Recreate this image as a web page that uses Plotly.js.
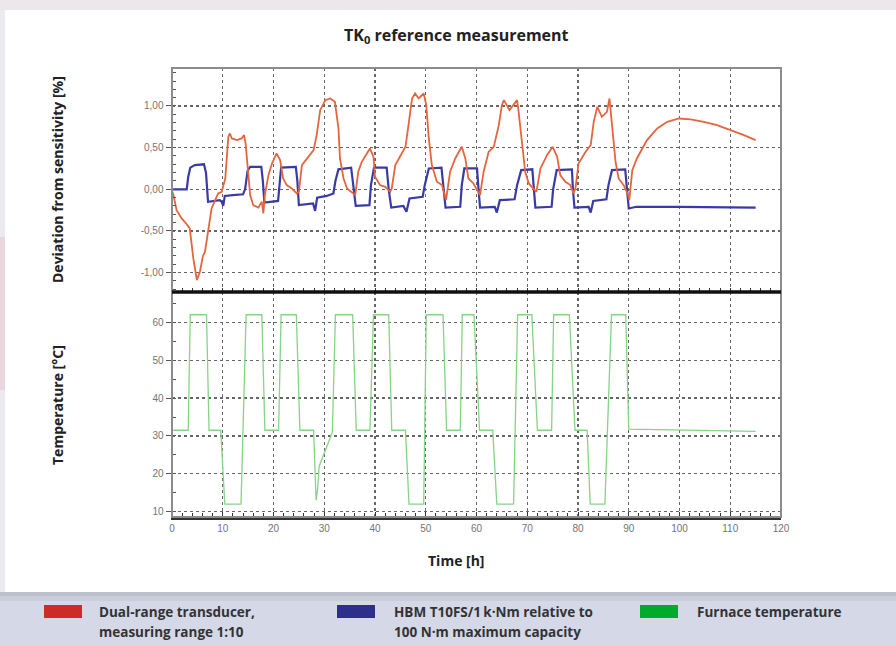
<!DOCTYPE html>
<html>
<head>
<meta charset="utf-8">
<script src="https://cdn.plot.ly/plotly-3.0.1.min.js"></script>
<style>
html,body{margin:0;padding:0;background:#fff;}
#chart{width:896px;height:646px;}
</style>
</head>
<body>
<div id="chart"></div>
<script>
// ---------- DATA ----------
// Dual-range transducer, measuring range 1:10 (deviation %)
const dualHours = [0,0.3,0.9,1.9,2.9,3.5,4.2,4.9,5.5,6.1,6.5,7.2,7.8,8.5,9.1,9.8,10.5,11.1,11.4,11.8,12.8,13.7,14.2,14.5,15.1,15.4,16.0,17.0,17.7,18.0,18.3,19.0,19.7,20.6,21.3,21.9,22.6,23.6,24.6,25.0,25.6,26.9,27.9,28.5,29.2,30.2,31.2,32.1,32.8,33.1,33.8,34.5,35.4,36.1,36.7,37.4,38.4,39.0,39.7,40.0,41.0,42.0,43.0,43.3,44.0,45.0,46.0,46.6,47.3,47.9,48.6,49.6,50.1,50.6,51.2,52.2,53.2,54.0,54.8,55.8,57.1,57.8,58.4,59.4,60.7,61.4,62.4,63.4,64.4,65.0,65.4,66.5,68.0,68.3,69.0,69.6,70.3,71.3,71.8,72.6,73.9,75.0,75.9,76.5,77.5,78.5,79.1,79.5,80.1,81.5,82.5,83.1,83.8,84.7,85.7,86.2,86.7,87.4,88.0,89.0,89.9,90.1,90.7,91.6,93.6,95.6,97.6,99.9,102.2,104.8,107.4,110.1,112.7,115];
const dualDev = [-0.02,-0.07,-0.25,-0.35,-0.42,-0.47,-0.83,-1.09,-0.99,-0.8,-0.75,-0.47,-0.23,-0.13,-0.05,-0.03,0.13,0.63,0.67,0.61,0.59,0.61,0.65,0.55,0.13,-0.07,-0.19,-0.22,-0.15,-0.29,-0.07,0.17,0.31,0.43,0.35,0.13,0.05,0.01,-0.05,-0.03,0.29,0.39,0.47,0.65,0.95,1.07,1.09,1.05,0.73,0.37,0.13,0.01,-0.03,-0.07,0.21,0.33,0.43,0.49,0.39,0.15,0.05,0.03,-0.03,0.01,0.29,0.41,0.51,0.77,1.09,1.15,1.09,1.15,1.01,0.61,0.29,0.09,0.05,-0.13,0.21,0.37,0.51,0.37,0.13,0.07,-0.07,0.21,0.45,0.51,0.77,1.01,1.07,0.95,1.07,0.93,0.53,0.21,0.07,0.01,-0.03,0.25,0.41,0.51,0.39,0.17,0.09,0.05,-0.05,0.01,0.31,0.45,0.53,0.81,0.99,0.87,0.93,1.09,0.77,0.33,0.13,0.05,-0.07,-0.13,0.23,0.37,0.59,0.73,0.81,0.85,0.84,0.81,0.77,0.71,0.65,0.59];

// HBM T10FS/1 kN·m relative to 100 N·m maximum capacity (deviation %)
const hbmHours = [0,2.9,3.2,3.6,4.5,6.3,6.7,7.1,9.4,9.8,10.1,10.4,12,14,14.4,14.9,15.4,17.6,17.9,18.2,20.9,21.2,21.5,24.4,24.7,25.0,27.8,28.2,28.6,30.5,31.8,32.2,32.8,35.3,35.7,36.2,38.9,39.2,39.8,42.3,42.7,43.2,45.6,46.2,46.8,49.4,49.8,50.6,53.1,53.5,53.9,56.8,57.1,57.6,60.1,60.4,60.7,63.6,64.0,64.6,67.5,68.0,68.8,71.0,71.3,71.6,74.8,75.1,75.8,78.8,79.0,79.3,82.1,82.5,83.0,85.6,86.0,86.7,89.3,89.7,90.0,91.5,100,115];
const hbmDev = [0,0,0.15,0.26,0.29,0.3,0.2,-0.15,-0.13,-0.15,-0.2,-0.08,-0.07,-0.06,0.0,0.22,0.27,0.27,0.1,-0.16,-0.14,0.1,0.26,0.27,0.1,-0.19,-0.17,-0.26,-0.1,-0.08,-0.05,0.1,0.24,0.26,0.05,-0.2,-0.19,0.05,0.26,0.26,0.0,-0.22,-0.2,-0.27,-0.11,-0.09,0.05,0.25,0.26,0.05,-0.22,-0.21,0.05,0.25,0.25,0.0,-0.22,-0.21,-0.28,-0.13,-0.12,0.05,0.23,0.24,0.0,-0.22,-0.21,0.0,0.23,0.24,0.0,-0.22,-0.21,-0.28,-0.14,-0.12,0.05,0.23,0.24,0.0,-0.23,-0.21,-0.21,-0.22];

// Furnace temperature (°C)
const furnHours = [0,3.2,3.6,6.8,7.3,9.6,10.4,13.6,14.6,17.7,18.3,21.0,21.5,24.5,25.2,27.9,28.4,28.7,29.0,31.6,32.2,35.6,36.3,39.0,39.7,42.7,43.3,46.0,46.7,49.6,50.1,53.4,54.1,56.8,57.2,59.5,60.6,63.2,64.0,67.3,68.1,70.9,72.0,74.8,75.2,78.3,79.4,81.8,82.4,85.3,86.6,89.4,90.0,100,115];
const furnTemp = [31.5,31.5,62,62,31.5,31.5,12,12,62,62,31.5,31.5,62,62,31.5,31.5,13,16,22,31,62,62,31.5,31.5,62,62,31.5,31.5,12,12,62,62,31.5,31.5,62,62,31.5,31.5,12,12,62,62,31.5,31.5,62,62,31.5,31.5,12,12,62,62,31.8,31.5,31.2];

// Tick labels
const devTickVals = [-1, -0.5, 0, 0.5, 1];
const devTickText = ['-1,00', '-0,50', '0,00', '0,50', '1,00'];
const tempTickVals = [10, 20, 30, 40, 50, 60];
const timeTickVals = [0,10,20,30,40,50,60,70,80,90,100,110,120];
const legendLabels = [
  ['Dual-range transducer,', 'measuring range 1:10'],
  ['HBM T10FS/1\u2009k\u00b7Nm relative to', '100 N\u00b7m maximum capacity'],
  ['Furnace temperature']
];
const legendColors = ['#cc2b28', '#2e2e8c', '#00ab2c'];

// ---------- LAYOUT HELPERS (pixel -> paper) ----------
const PL = 172, PR = 781, PT = 68, PB = 517;
const px = x => (x - PL) / (PR - PL);
const py = y => (PB - y) / (PB - PT);
const split = py(292);

const FONT = '"Open Sans", Arial, sans-serif';
const TICKFONT = {family: 'Arial, "Liberation Sans", sans-serif', size: 10, color: '#747474'};

const traces = [
  {x: furnHours, y: furnTemp, xaxis: 'x', yaxis: 'y', mode: 'lines',
   line: {color: '#86d486', width: 1.3}, name: 'Furnace temperature', showlegend: false},
  {x: hbmHours, y: hbmDev, xaxis: 'x2', yaxis: 'y2', mode: 'lines',
   line: {color: '#3a3aa6', width: 2.2}, name: 'HBM T10FS', showlegend: false},
  {x: dualHours, y: dualDev, xaxis: 'x2', yaxis: 'y2', mode: 'lines',
   line: {color: '#e4653e', width: 1.8}, name: 'Dual-range transducer', showlegend: false}
];

const gridCommon = {showgrid: true, gridcolor: '#666', gridwidth: 1.2, griddash: 'dot', zeroline: false};

const shapes = [
  // outer page decoration
  {type: 'rect', xref: 'paper', yref: 'paper', x0: px(0), x1: px(896), y0: py(0), y1: py(10), fillcolor: '#ece7eb', line: {width: 0}, layer: 'below'},
  {type: 'rect', xref: 'paper', yref: 'paper', x0: px(0), x1: px(5), y0: py(10), y1: py(592), fillcolor: '#ebebef', line: {width: 0}, layer: 'below'},
  {type: 'rect', xref: 'paper', yref: 'paper', x0: px(0), x1: px(5), y0: py(237), y1: py(390), fillcolor: '#e9d6df', line: {width: 0}, layer: 'below'},
  {type: 'rect', xref: 'paper', yref: 'paper', x0: px(0), x1: px(896), y0: py(592), y1: py(646), fillcolor: '#d5d8e6', line: {width: 0}, layer: 'below'},
  {type: 'rect', xref: 'paper', yref: 'paper', x0: px(0), x1: px(896), y0: py(592), y1: py(596), fillcolor: '#bcbfcc', line: {width: 0}, layer: 'below'},
  {type: 'rect', xref: 'paper', yref: 'paper', x0: px(0), x1: px(896), y0: py(596), y1: py(601), fillcolor: '#cacdda', line: {width: 0}, layer: 'below'},
  // plot frame
  {type: 'rect', xref: 'paper', yref: 'paper', x0: 0, x1: 1, y0: 0, y1: 1, line: {color: '#8c8c8c', width: 2}, fillcolor: 'rgba(0,0,0,0)'},
  // divider between panels
  {type: 'line', xref: 'paper', yref: 'paper', x0: 0, x1: 1, y0: split, y1: split, line: {color: '#111', width: 3.5}}
];

// legend swatches
const swatchX = [44, 337, 640];
const textX = [97, 392, 695];
swatchX.forEach((sx, i) => {
  shapes.push({type: 'rect', xref: 'paper', yref: 'paper', x0: px(sx), x1: px(sx + 38), y0: py(618), y1: py(605),
    fillcolor: legendColors[i], line: {width: 0}});
});

const annotations = [
  {text: 'TK<sub>0</sub> reference measurement', xref: 'paper', yref: 'paper', x: px(456), y: py(36),
   xanchor: 'center', yanchor: 'middle', showarrow: false, font: {family: FONT, size: 16, color: '#222', weight: 'bold'}},
  {text: 'Deviation from sensitivity [%]', xref: 'paper', yref: 'paper', x: px(57), y: py(180), textangle: -90,
   xanchor: 'center', yanchor: 'middle', showarrow: false, font: {family: FONT, size: 14, color: '#222', weight: 'bold'}},
  {text: 'Temperature [°C]', xref: 'paper', yref: 'paper', x: px(57), y: py(405), textangle: -90,
   xanchor: 'center', yanchor: 'middle', showarrow: false, font: {family: FONT, size: 14, color: '#222', weight: 'bold'}},
  {text: 'Time [h]', xref: 'paper', yref: 'paper', x: px(456), y: py(560),
   xanchor: 'center', yanchor: 'middle', showarrow: false, font: {family: FONT, size: 14, color: '#222', weight: 'bold'}}
];
legendLabels.forEach((lines, i) => {
  lines.forEach((t, j) => {
    annotations.push({text: t, xref: 'paper', yref: 'paper', x: px(textX[i]), y: py(612 + 20 * j),
      xanchor: 'left', yanchor: 'middle', showarrow: false,
      font: {family: FONT, size: 13.5, color: '#333', weight: 'bold'}});
  });
});

const layout = {
  width: 896, height: 646,
  margin: {l: PL, r: 896 - PR, t: PT, b: 646 - PB, pad: 0},
  paper_bgcolor: '#ffffff', plot_bgcolor: 'rgba(0,0,0,0)',
  showlegend: false,
  xaxis: Object.assign({}, gridCommon, {
    domain: [0, 1], anchor: 'y', range: [0, 120], tickvals: timeTickVals,
    ticks: 'inside', ticklen: 5, tickcolor: '#333', tickfont: TICKFONT,
    showline: true, linecolor: '#333', linewidth: 2.5,
    minor: {dtick: 2, tick0: 0, ticks: 'inside', ticklen: 4, tickcolor: '#333', showgrid: false}
  }),
  xaxis2: Object.assign({}, gridCommon, {
    domain: [0, 1], anchor: 'y2', matches: 'x', range: [0, 120], tickvals: timeTickVals,
    showticklabels: false, ticks: '', showline: false,
    minor: {dtick: 2, tick0: 0, ticks: 'inside', ticklen: 4, tickcolor: '#333', showgrid: false}
  }),
  yaxis: Object.assign({}, gridCommon, {
    domain: [0, split], anchor: 'x', range: [8.6, 68.0], tickvals: tempTickVals,
    ticks: 'outside', ticklen: 5, tickcolor: '#555', tickfont: TICKFONT,
    showline: true, linecolor: '#555', linewidth: 1.5,
    minor: {dtick: 5, tick0: 0, ticks: 'inside', ticklen: 4, tickcolor: '#555', showgrid: false}
  }),
  yaxis2: Object.assign({}, gridCommon, {
    domain: [split, 1], anchor: 'x2', range: [-1.233, 1.456], tickvals: devTickVals, ticktext: devTickText,
    ticks: 'outside', ticklen: 5, tickcolor: '#555', tickfont: TICKFONT,
    showline: true, linecolor: '#555', linewidth: 1.5,
    minor: {dtick: 0.1, tick0: 0, ticks: 'inside', ticklen: 4, tickcolor: '#555', showgrid: false}
  }),
  shapes: shapes,
  annotations: annotations
};

Plotly.newPlot('chart', traces, layout, {staticPlot: true, displayModeBar: false});
</script>
</body>
</html>
